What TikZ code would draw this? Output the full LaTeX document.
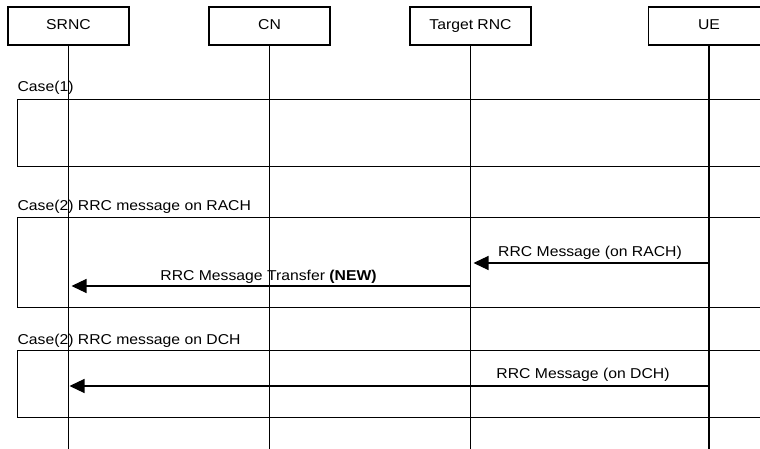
\documentclass[tikz,border=0pt]{standalone}
\usepackage{fontspec}
\setmainfont{Liberation Sans}[FakeStretch=1.1]
\usetikzlibrary{arrows.meta}
\begin{document}
\begin{tikzpicture}[x=1pt,y=-1pt, line width=1.2pt, font=\fontsize{14.3}{16}\selectfont,
 hdr/.style={draw, fill=white, minimum width=121pt, minimum height=38pt, inner sep=0pt, text height=10pt, text depth=3.4pt},
 casebox/.style={draw, anchor=north west, minimum width=760pt, inner sep=0pt},
 caselbl/.style={anchor=base west, inner sep=0pt},
 msg/.style={-{Triangle[length=15pt,width=14pt]}, shorten >=3pt},
 lbl/.style={anchor=base, inner sep=0pt}]
\useasboundingbox (0,0) rectangle (760,449);
\clip (0,0) rectangle (760,449);
% case boxes
\node[casebox, minimum height=67pt] (case1) at (17,99) {};
\node[casebox, minimum height=90pt] (case2) at (17,217) {};
\node[casebox, minimum height=67pt] (case3) at (17,350) {};
\node[caselbl] (case1l) at (17,92) {Case(1)};
\node[caselbl] (case2l) at (17,211) {Case(2) RRC message on RACH};
\node[caselbl] (case3l) at (17,344) {Case(2) RRC message on DCH};
% headers
\node[hdr] (srnc) at (68.5,26) {SRNC};
\node[hdr] (cn) at (269.5,26) {CN};
\node[hdr] (tgt) at (470.5,26) {Target RNC};
\node[hdr] (ue) at (709,26) {UE};
\coordinate (bot) at (0,449);
\foreach \n in {srnc,cn,tgt,ue} \draw (\n.south) -- (\n.south |- bot);
% messages
\coordinate (ueA) at (ue |- 0,263);
\coordinate (tgA) at (tgt |- 0,263);
\coordinate (tgB) at (tgt |- 0,286);
\coordinate (srB) at (srnc |- 0,286);
\coordinate (ueC) at (ue |- 0,386);
\coordinate (srC) at (srnc |- 0,386);
\draw[msg] (ueA) -- (tgA);
\draw[msg] (tgB) -- (srB);
\draw[msg, shorten >=1pt] (ueC) -- (srC);
\node[lbl] (m1) at (590,256) {RRC Message (on RACH)};
\node[lbl] (m2) at (268.5,280.7) {RRC Message Transfer \textbf{(NEW)}};
\node[lbl] (m3) at (583,378.7) {RRC Message (on DCH)};
\end{tikzpicture}
\end{document}
